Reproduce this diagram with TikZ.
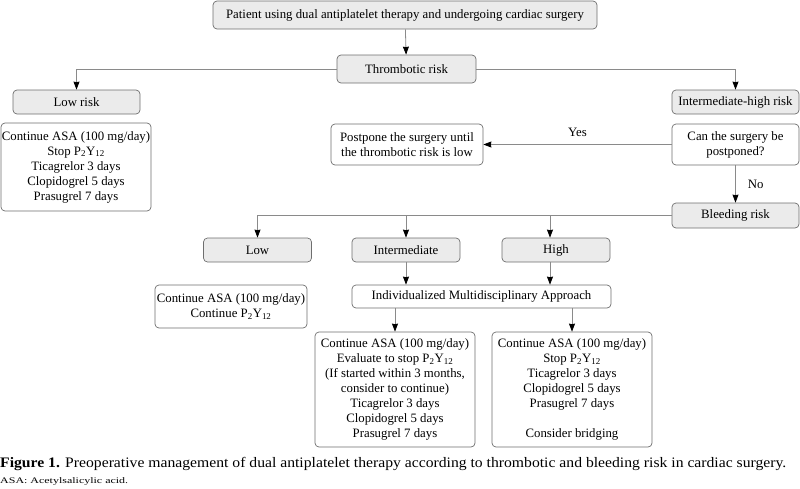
\documentclass[tikz,border=0pt]{standalone}
\usepackage{fontspec}
\setmainfont{Liberation Serif}
\usepackage{graphicx}
\usetikzlibrary{arrows.meta,calc}
\definecolor{boxfill}{HTML}{EBEBEB}
\definecolor{boxline}{HTML}{6E6E6E}
\definecolor{conn}{HTML}{8A8A8A}
\newcommand{\pyy}{P\textsubscript{2}Y\textsubscript{12}}
\begin{document}
\begin{tikzpicture}[x=1pt,y=-1pt,
  base/.style={draw=boxline,line width=0.7pt,rounded corners=4pt,align=center,inner sep=0pt,
    font=\fontsize{12.8}{15}\selectfont},
  gbox/.style={base,fill=boxfill},
  wbox/.style={base,fill=white},
  conn/.style={draw=conn,line width=0.8pt,-{Stealth[length=8pt,width=6pt,inset=0.5pt,black]}},
  lbl/.style={font=\fontsize{12.8}{15}\selectfont,inner sep=0pt}]
\useasboundingbox (0,0) rectangle (800,488);
\node[gbox,minimum width=384pt,minimum height=28pt] (top) at (405,15) {Patient using dual antiplatelet therapy and undergoing cardiac surgery};
\node[gbox,minimum width=139pt,minimum height=28pt] (thr) at (406.5,69) {Thrombotic risk};
\node[gbox,minimum width=127pt,minimum height=24pt] (lowrisk) at (76.5,102) {Low risk};
\node[gbox,minimum width=127pt,minimum height=24pt] (ihr) at (735.5,102) {Intermediate-high risk};
\node[wbox,minimum width=150pt,minimum height=88pt] (lowdet) at (76,167) {Continue ASA (100 mg/day)\\Stop \pyy\\Ticagrelor 3 days\\Clopidogrel 5 days\\Prasugrel 7 days};
\node[wbox,minimum width=152pt,minimum height=41pt] (post) at (407,144.5) {Postpone the surgery until\\the thrombotic risk is low};
\node[wbox,minimum width=127pt,minimum height=41pt] (can) at (735.5,144.5) {Can the surgery be\\postponed?};
\node[gbox,minimum width=127pt,minimum height=25pt] (bleed) at (735.5,215.5) {Bleeding risk};
\node[gbox,minimum width=108pt,minimum height=24pt] (low) at (257.5,250) {Low};
\node[gbox,minimum width=108pt,minimum height=24pt] (inter) at (406,250) {Intermediate};
\node[gbox,minimum width=108pt,minimum height=24pt] (high) at (556,250) {High};
\node[wbox,minimum width=259pt,minimum height=23pt] (ima) at (481.5,296.5) {Individualized Multidisciplinary Approach};
\node[wbox,minimum width=152pt,minimum height=43pt] (lowd) at (231,306.5) {Continue ASA (100 mg/day)\\Continue \pyy};
\node[wbox,minimum width=160pt,minimum height=115pt] (interd) at (395,389.5) {Continue ASA (100 mg/day)\\Evaluate to stop \pyy\\(If started within 3 months,\\consider to continue)\\Ticagrelor 3 days\\Clopidogrel 5 days\\Prasugrel 7 days};
\node[wbox,minimum width=160pt,minimum height=115pt] (highd) at (572,389.5) {Continue ASA (100 mg/day)\\Stop \pyy\\Ticagrelor 3 days\\Clopidogrel 5 days\\Prasugrel 7 days\\[15pt]Consider bridging};
% connectors
\draw[conn] (top) -- (thr);
\draw[conn] (thr.west) -| (lowrisk.north);
\draw[conn] (thr.east) -| (ihr.north);
\draw[conn] (can.west) -- (post.east) node[lbl,midway,above=7pt] (yes) {Yes};
\draw[conn] (can.south) -- (bleed.north) node[lbl,midway,right=12pt] (no) {No};
\draw[conn] (bleed.west) -| (low.north);
\draw[conn] (inter.north |- bleed.west) -- (inter.north);
\draw[conn] ([xshift=-6pt]high.north |- bleed.west) -- ([xshift=-6pt]high.north);
\draw[conn] (inter.south) -- (inter.south |- ima.north);
\draw[conn] ([xshift=-6pt]high.south) -- ([xshift=-6pt]high.south |- ima.north);
\draw[conn] (interd.north |- ima.south) -- (interd.north);
\draw[conn] (highd.north |- ima.south) -- (highd.north);
% caption
\node[anchor=base west,inner sep=0pt] (cap) at (0,467) {\resizebox{786pt}{\height}{\fontsize{14.5}{16}\selectfont\textbf{Figure 1.} Preoperative management of dual antiplatelet therapy according to thrombotic and bleeding risk in cardiac surgery.}};
\node[anchor=base west,inner sep=0pt] (note) at (0,483) {\resizebox{128pt}{\height}{\fontsize{8.5}{10}\selectfont ASA: Acetylsalicylic acid.}};
\end{tikzpicture}
\end{document}
